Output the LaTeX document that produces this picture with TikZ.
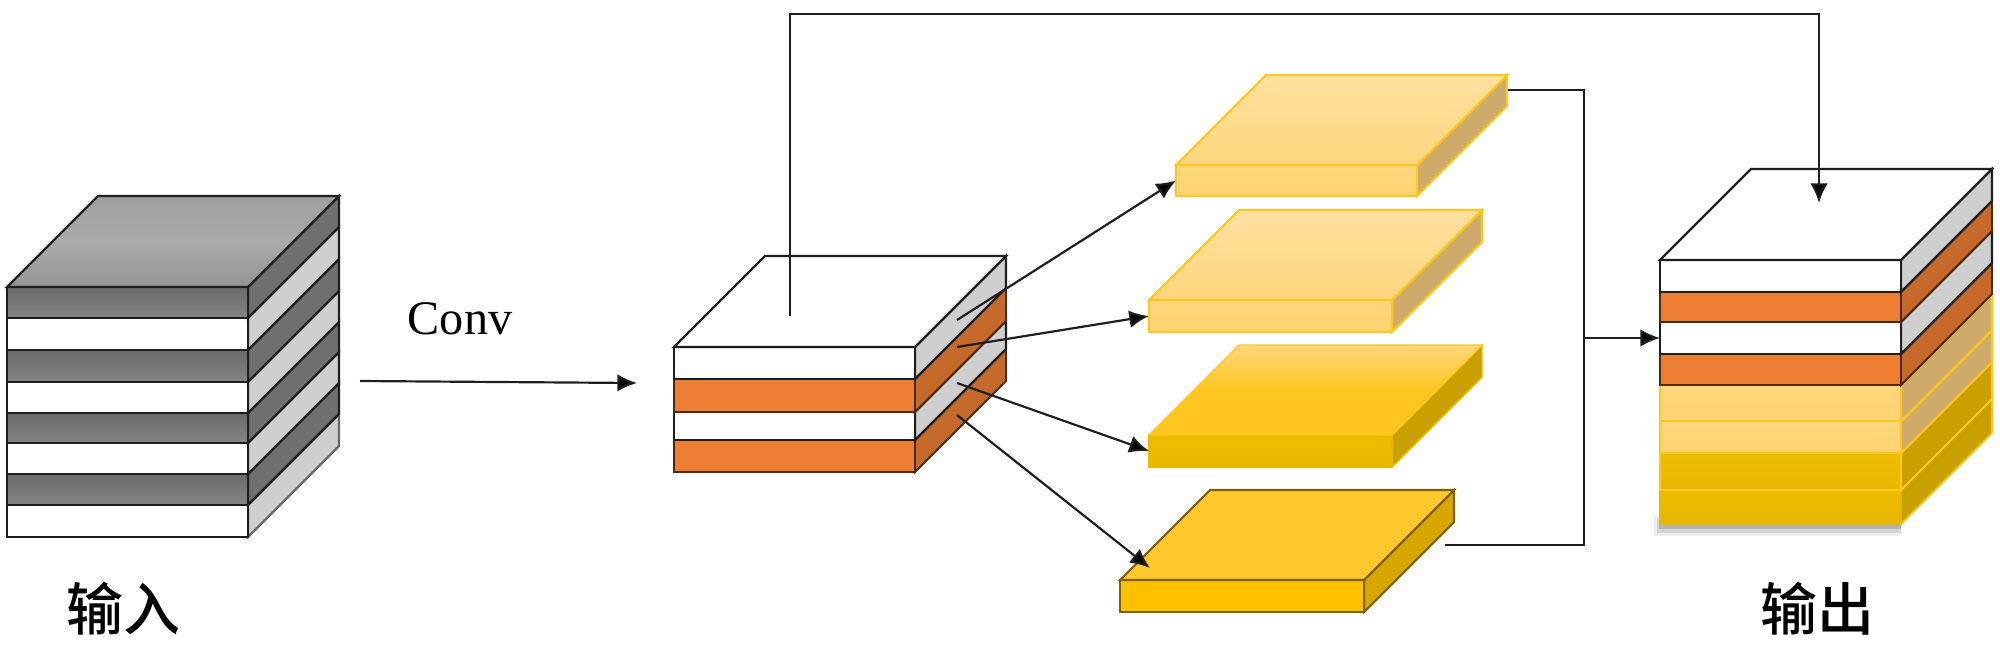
\documentclass[tikz,border=0pt]{standalone}
\usepackage{fontspec}
\setmainfont{Liberation Serif}
\newfontfamily\cjk{Noto Sans CJK SC Medium}
\usetikzlibrary{arrows.meta}
\definecolor{dkside}{HTML}{707070}
\definecolor{ltside}{HTML}{CFCFCF}
\definecolor{orfront}{HTML}{ED7D31}
\definecolor{orside}{HTML}{C56A2B}
\definecolor{edgeK}{HTML}{1E1E1E}
\definecolor{edgeO}{HTML}{4A2A12}
\definecolor{edgeY}{HTML}{FFC61E}
\definecolor{edgeD}{HTML}{7F6000}
\definecolor{HTMLa}{HTML}{FFD67E}
\definecolor{HTMLb}{HTML}{FFD36F}
\definecolor{HTMLc}{HTML}{ECBC00}
\definecolor{HTMLd}{HTML}{E8B800}
\definecolor{lyside}{HTML}{CFAB6B}
\definecolor{dyside}{HTML}{C9A000}
\definecolor{HTMLy}{HTML}{FFC000}
\definecolor{HTMLz}{HTML}{D9A600}
\definecolor{HTMLw}{HTML}{FFC92E}
\tikzset{
  x=0.01cm, y=-0.01cm,
  wire/.style={draw=edgeK, line width=0.62pt, line join=miter},
  arrowed/.style={wire, -{Latex[length=5.6pt,width=5pt,fill=black]}},
  blackedge/.style={draw=edgeK, line width=0.62pt},
  orangeedge/.style={draw=edgeO, line width=0.55pt},
  yellowedge/.style={draw=edgeY, line width=0.6pt},
  darkedge/.style={draw=edgeD, line width=0.6pt},
  dkfront/.style={blackedge, top color=black!58, bottom color=black!48},
  wfront/.style={blackedge, fill=white},
  ofront/.style={orangeedge, fill=orfront},
  lyfront/.style={yellowedge, top color=HTMLa, bottom color=HTMLb},
  lab/.style={font=\cjk\fontsize{16.2pt}{17pt}\selectfont, text=black, inner sep=0pt},
}
\def\dep{91}
% name, x, ytop, ybot, width, front style, side style
\newcommand{\slab}[7]{%
  \path[#7] ({#2+#5},#3) -- ++(\dep,-\dep) -- ++(0,{#4-#3}) -- ++(-\dep,\dep) -- cycle;
  \node[#6, anchor=north west, inner sep=0pt, outer sep=0pt,
        minimum width={(#5)*0.01cm}, minimum height={(#4-#3)*0.01cm}] (#1) at (#2,#3) {};
}
% x, ytop, width, style
\newcommand{\topface}[4]{%
  \path[#4] (#1,#2) -- ++(\dep,-\dep) -- ++(#3,0) -- ++(-\dep,\dep) -- cycle;
}
\begin{document}
\begin{tikzpicture}
\useasboundingbox (0,0) rectangle (2000,648);

% ---------- input stack
\def\dep{91}
\slab{a8}{7}{505}{537}{241}{wfront}{blackedge, draw=black!60, fill=ltside}
\slab{a7}{7}{474}{505}{241}{dkfront}{blackedge, fill=dkside}
\slab{a6}{7}{443}{474}{241}{wfront}{blackedge, fill=ltside}
\slab{a5}{7}{413}{443}{241}{dkfront}{blackedge, fill=dkside}
\slab{a4}{7}{382}{413}{241}{wfront}{blackedge, fill=ltside}
\slab{a3}{7}{350}{382}{241}{dkfront}{blackedge, fill=dkside}
\slab{a2}{7}{318}{350}{241}{wfront}{blackedge, fill=ltside}
\slab{a1}{7}{287}{318}{241}{dkfront}{blackedge, fill=dkside}
\topface{7}{287}{241}{blackedge, top color=black!38, bottom color=black!42, middle color=black!33}

% ---------- middle stack
\slab{b4}{674}{440}{472}{241}{ofront}{orangeedge, fill=orside}
\slab{b3}{674}{412}{440}{241}{wfront}{blackedge, fill=ltside}
\slab{b2}{674}{379}{412}{241}{ofront}{orangeedge, fill=orside}
\slab{b1}{674}{347}{379}{241}{wfront}{blackedge, fill=ltside}
\topface{674}{347}{241}{blackedge, fill=white}

% ---------- four separated plates
\def\dep{90}
\slab{y1}{1176}{165}{196}{241}{lyfront}{yellowedge, fill=lyside}
\topface{1176}{165}{241}{yellowedge, top color=HTMLa!75!white, bottom color=HTMLa}
\slab{y2}{1149}{300}{332}{243}{lyfront}{yellowedge, fill=lyside}
\topface{1149}{300}{243}{yellowedge, top color=HTMLa!75!white, bottom color=HTMLa}
\slab{y3}{1149}{435}{467}{243}{draw=HTMLd, line width=0.4pt, top color=HTMLc, bottom color=HTMLd}{draw=HTMLd, line width=0.4pt, fill=dyside}
\topface{1149}{435}{243}{draw=edgeY, line width=0.4pt, top color=HTMLa, bottom color=edgeY, middle color=edgeY}
\slab{y4}{1120}{580}{612}{244}{darkedge, fill=HTMLy}{darkedge, fill=HTMLz}
\topface{1120}{580}{244}{darkedge, fill=HTMLw}

% ---------- output stack
\def\dep{91}
\fill[black, opacity=0.07] (1654,516) rectangle (1901,536);
\fill[black, opacity=0.10] (1657,518) rectangle (1901,533);
\fill[black, opacity=0.16] (1659,520) rectangle (1901,529);
\slab{c8}{1660}{490}{524}{241}{draw=HTMLd, line width=0.5pt, top color=HTMLc, bottom color=HTMLd}{draw=edgeY!80!HTMLd, line width=0.5pt, fill=dyside}
\slab{c7}{1660}{453}{490}{241}{draw=edgeY, line width=0.6pt, top color=HTMLc, bottom color=HTMLd}{yellowedge, fill=dyside}
\slab{c6}{1660}{421}{453}{241}{lyfront}{yellowedge, fill=lyside}
\slab{c5}{1660}{385}{421}{241}{lyfront}{yellowedge, fill=lyside}
\slab{c4}{1660}{354}{385}{241}{ofront}{orangeedge, fill=orside}
\slab{c3}{1660}{322}{354}{241}{wfront}{blackedge, fill=ltside}
\slab{c2}{1660}{292}{322}{241}{ofront}{orangeedge, fill=orside}
\slab{c1}{1660}{260}{292}{241}{wfront}{blackedge, fill=ltside}
\topface{1660}{260}{241}{blackedge, fill=white}

% ---------- free connector ends
\coordinate (convS) at (360,381);
\coordinate (convE) at (637,383);
\coordinate (skipS) at (790,316);
\coordinate (skipT) at (1819,203);
\coordinate (s1) at (957,320);
\coordinate (s2) at (957,347);
\coordinate (s3) at (957,383);
\coordinate (s4) at (957,415);
\coordinate (t4) at (1150,568);
\coordinate (r1) at (1508,90);
\coordinate (r4) at (1445,545);
\coordinate (busT) at (1584,90);
\coordinate (busB) at (1584,545);
\coordinate (busM) at (1584,338);

% ---------- connectors
\draw[arrowed] (convS) -- (convE);
\draw[arrowed] (skipS) -- (790,14) -- (1819,14) -- (skipT);
\draw[arrowed] (s1) -- (y1.west);
\draw[arrowed] (s2) -- (y2.west);
\draw[arrowed] (s3) -- (y3.west);
\draw[arrowed] (s4) -- (t4);
\draw[wire] (r1) -- (busT) -- (busB) -- (r4);
\draw[arrowed] (busM) -- (c3.west);

% ---------- labels
\node[inner sep=0pt, font=\fontsize{13.7pt}{15pt}\selectfont] (conv) at (460,319) {Conv};
\node[lab] (inlab) at (123,609) {输入};
\node[lab] (outlab) at (1817,609) {输出};
\end{tikzpicture}
\end{document}
